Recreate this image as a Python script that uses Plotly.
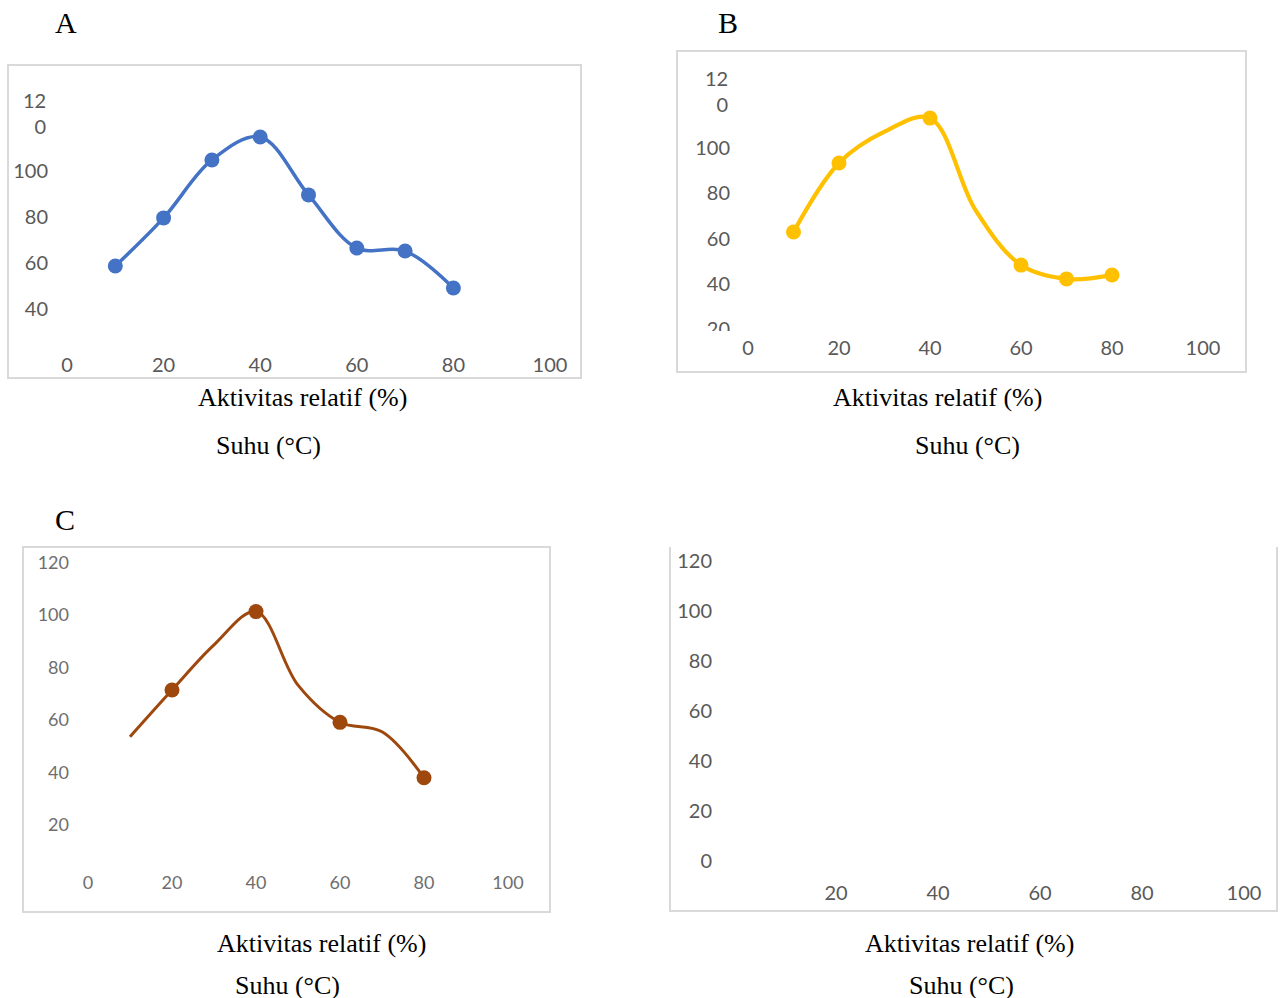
import plotly.graph_objects as go

# ---------------- data ----------------
temps_A = [10, 20, 30, 40, 50, 60, 70, 80]
activity_A = [58.7, 79.6, 104.8, 114.8, 89.6, 66.5, 65.2, 49.1]
markers_A = [True, True, True, True, True, True, True, True]

temps_B = [10, 20, 30, 40, 50, 60, 70, 80]
activity_B = [62.9, 93.4, 107.2, 113.2, 72.6, 48.3, 42.2, 43.9]
markers_B = [True, True, False, True, False, True, True, True]

temps_C = [10, 20, 30, 40, 50, 60, 70, 80]
activity_C = [53.6, 71.4, 88.6, 101.3, 73.3, 59.1, 55.5, 38.0]
markers_C = [False, True, False, True, False, True, False, True]

x_ticks_ABC = [0, 20, 40, 60, 80, 100]
x_ticks_D = [20, 40, 60, 80, 100]
y_ticks_A = [40, 60, 80, 100]
y_ticks_B = [20, 40, 60, 80, 100]
y_ticks_C = [20, 40, 60, 80, 100, 120]
y_ticks_D = [0, 20, 40, 60, 80, 100, 120]
wrapped_top_tick = 120
wrapped_top_text = "12<br>0"

panel_letters = ["A", "B", "C"]
label_activity = "Aktivitas relatif (%)"
label_temp = "Suhu (°C)"

# ---------------- geometry helpers ----------------
W, H = 1285, 998          # reference coordinate space
FIG_H = 1004              # page height that fills the captured viewport


def fx(px):
    return px / W


def fy(py):
    return 1 - py / H


# panel pixel mappings: x pixel = xa + v*kx ; y pixel = ya - v*ky
panels = {
    "A": dict(xa=67, kx=4.83, ya=401, ky=2.3, dom_x=(49, 578), dom_y=(60, 351)),
    "B": dict(xa=748, kx=4.55, ya=374.5, ky=2.265, dom_x=(731, 1244), dom_y=(55, 334)),
    "C": dict(xa=88, kx=4.2, ya=877.5, ky=2.625, dom_x=(70, 548), dom_y=(550, 870)),
    "D": dict(xa=734, kx=5.1, ya=861, ky=2.5, dom_x=(713, 1274), dom_y=(545, 879)),
}


def axis_cfg(p):
    (l, r), (t, b) = p["dom_x"], p["dom_y"]
    xr = [(l - p["xa"]) / p["kx"], (r - p["xa"]) / p["kx"]]
    yr = [(p["ya"] - b) / p["ky"], (p["ya"] - t) / p["ky"]]
    return dict(domain=[fx(l), fx(r)], range=xr), dict(domain=[fy(b), fy(t)], range=yr)


tick_font = dict(family="Lato, 'Open Sans', sans-serif", size=20, color="#595959")
tick_font_C = dict(family="Lato, sans-serif", size=18, color="#6e6e6e")

fig = go.Figure()


def add_series(x, y, show, color, width, msize, idx):
    sizes = [msize if s else 0 for s in show]
    fig.add_trace(go.Scatter(
        x=x, y=y, mode="lines+markers",
        line=dict(color=color, width=width, shape="spline", smoothing=1.0),
        marker=dict(color=color, size=sizes, symbol="circle", opacity=1,
                    line=dict(width=0)),
        xaxis=f"x{idx}" if idx > 1 else "x", yaxis=f"y{idx}" if idx > 1 else "y",
        showlegend=False, hoverinfo="skip",
    ))


add_series(temps_A, activity_A, markers_A, "#4472C4", 3.5, 15, 1)
add_series(temps_B, activity_B, markers_B, "#FFC000", 4.2, 15, 2)
add_series(temps_C, activity_C, markers_C, "#9E480E", 3.0, 15, 3)
fig.add_trace(go.Scatter(x=[], y=[], xaxis="x4", yaxis="y4", showlegend=False))

layout = dict(
    width=W, height=FIG_H, margin=dict(l=0, r=0, t=0, b=0),
    paper_bgcolor="white", plot_bgcolor="white", showlegend=False,
)

specs = [("A", 1, x_ticks_ABC, y_ticks_A, tick_font),
         ("B", 2, x_ticks_ABC, y_ticks_B, tick_font),
         ("C", 3, x_ticks_ABC, y_ticks_C, tick_font_C),
         ("D", 4, x_ticks_D, y_ticks_D, tick_font)]

for name, idx, xt, yt, fnt in specs:
    xa, ya = axis_cfg(panels[name])
    sx = "" if idx == 1 else str(idx)
    layout[f"xaxis{sx}"] = dict(
        **xa, anchor=f"y{sx}", tickvals=xt, ticktext=[str(v) for v in xt],
        showgrid=False, zeroline=False, showline=False, ticks="", tickfont=fnt,
        fixedrange=True,
    )
    layout[f"yaxis{sx}"] = dict(
        **ya, anchor=f"x{sx}", tickvals=yt, ticktext=[str(v) for v in yt],
        showgrid=False, zeroline=False, showline=False, ticks="", tickfont=fnt,
        fixedrange=True,
    )

fig.update_layout(**layout)

# panel frames
frame = dict(color="#D9D9D9", width=2)
fig.add_shape(type="rect", xref="paper", yref="paper", x0=fx(8), x1=fx(581), y0=fy(378), y1=fy(65), line=frame, layer="below")
fig.add_shape(type="rect", xref="paper", yref="paper", x0=fx(677), x1=fx(1246), y0=fy(372), y1=fy(51), line=frame, layer="below")
fig.add_shape(type="rect", xref="paper", yref="paper", x0=fx(23), x1=fx(550), y0=fy(912), y1=fy(547), line=frame, layer="below")
fig.add_shape(type="path", xref="paper", yref="paper",
              path=f"M {fx(670)} {fy(547)} L {fx(670)} {fy(911)} L {fx(1277)} {fy(911)} L {fx(1277)} {fy(547)}",
              line=frame, layer="below")

# the "20" label of panel B is cut off at its lower half in the original
fig.add_shape(type="rect", xref="paper", yref="paper", x0=fx(700), x1=fx(735), y0=fy(338), y1=fy(331),
              line=dict(width=0), fillcolor="white", layer="above")

# wrapped "12 / 0" tick labels on A and B
for idx, right_px in [(1, 47), (2, 729)]:
    sy = "y" if idx == 1 else f"y{idx}"
    fig.add_annotation(xref="paper", yref=sy, x=fx(right_px), y=wrapped_top_tick,
                       xanchor="right", yanchor="bottom", align="right",
                       text=wrapped_top_text, showarrow=False, font=tick_font,
                       yshift=-14, borderpad=0)

serif = dict(family="'Liberation Serif', 'Times New Roman', serif", size=26, color="black")
letter_font = dict(family="'Liberation Serif', 'Times New Roman', serif", size=30, color="black")
for letter, (px, py) in zip(panel_letters, [(66, 22), (728, 22), (65, 519)]):
    fig.add_annotation(xref="paper", yref="paper", x=fx(px), y=fy(py), text=letter,
                       showarrow=False, font=letter_font, xanchor="center", yanchor="middle")

for (ax, ay), (bx, by) in [((302, 397), (268, 445)), ((937, 397), (967, 445)),
                           ((321, 943), (287, 985)), ((969, 943), (961, 985))]:
    fig.add_annotation(xref="paper", yref="paper", x=fx(ax), y=fy(ay), text=label_activity,
                       showarrow=False, font=serif, xanchor="center", yanchor="middle")
    fig.add_annotation(xref="paper", yref="paper", x=fx(bx), y=fy(by), text=label_temp,
                       showarrow=False, font=serif, xanchor="center", yanchor="middle")

page_fix = (
    "document.documentElement.style.margin='0';"
    "document.documentElement.style.padding='0';"
    "document.documentElement.style.overflow='hidden';"
    "document.body.style.margin='0';"
    "document.body.style.padding='0';"
    "document.body.style.overflow='hidden';"
    "var d=document.querySelector('.plotly-graph-div');"
    "if(d){d.style.display='block';}"
)

fig.write_html("out.html", post_script=page_fix,
               config=dict(displayModeBar=False, staticPlot=True))
